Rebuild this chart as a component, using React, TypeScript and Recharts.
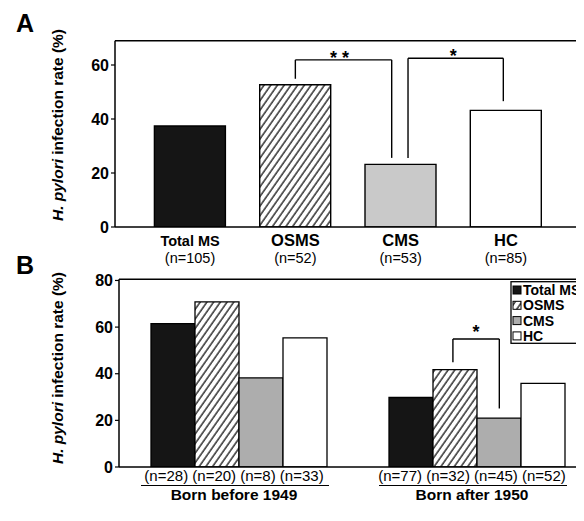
import React from "react";
import { BarChart, Bar, XAxis, YAxis, ReferenceLine, ReferenceDot, Cell } from "recharts";

// ---------- Panel A data ----------
const groupsA = ["Total MS", "OSMS", "CMS", "HC"];
const countsA = ["(n=105)", "(n=52)", "(n=53)", "(n=85)"];
const ratesA = [37.4, 52.7, 23.2, 43.2];
const ticksA = [0, 20, 40, 60];

// ---------- Panel B data ----------
const cohortsB = ["Born before 1949", "Born after 1950"];
const countsB = ["(n=28) (n=20) (n=8) (n=33)", "(n=77) (n=32) (n=45) (n=52)"];
const totalMsB = [61.5, 29.8];
const osmsB = [70.8, 41.8];
const cmsB = [38.2, 21.0];
const hcB = [55.4, 35.9];
const ticksB = [0, 20, 40, 60, 80];
const seriesB = ["Total MS", "OSMS", "CMS", "HC"];

// significance brackets (x in category-index units, y in %)
const bracketsA = [
  { x1: 1.0, x2: 1.915, yTop: 61.9, y1: 54.9, y2: 25.6, mark: "* *", markX: 1.42, markY: 64.2 },
  { x1: 2.07, x2: 2.975, yTop: 62.5, y1: 25.6, y2: 46.6, mark: "*", markX: 2.5, markY: 64.8 },
];
const bracketsB = [
  { x1: 0.903, x2: 1.098, yTop: 54.9, y1: 44.9, y2: 25.1, mark: "*", markX: 1.0, markY: 59.5 },
];

// ---------- styles ----------
const FONT = "'Liberation Sans', Arial, Helvetica, sans-serif";
const fillA: Record<string, string> = { "Total MS": "#151515", OSMS: "url(#hatchOSMS)", CMS: "#c9c9c9", HC: "#ffffff" };
const fillB: Record<string, string> = { "Total MS": "#151515", OSMS: "url(#hatchOSMS)", CMS: "#adadad", HC: "#ffffff" };

const TickA = (props: any) => {
  const { x, y, payload } = props;
  const i = groupsA.indexOf(payload.value);
  return (
    <g>
      <text x={x} y={y + 19} textAnchor="middle" fontWeight="bold" fontSize={i === 0 ? 14.5 : 16.5} fill="#000">
        {payload.value}
      </text>
      <text x={x} y={y + 36} textAnchor="middle" fontSize={14.5} fill="#000">
        {countsA[i]}
      </text>
    </g>
  );
};

const TickB = (props: any) => {
  const { x, y, payload } = props;
  const i = cohortsB.indexOf(payload.value);
  return (
    <g>
      <text x={x - 4} y={y + 14} textAnchor="middle" fontSize={15} fill="#000">
        {countsB[i]}
      </text>
      <line x1={x - 97} x2={x + 91} y1={y + 18.5} y2={y + 18.5} stroke="#000" strokeWidth={1.2} />
      <text x={x - 4} y={y + 32.5} textAnchor="middle" fontSize={15.5} fontWeight="bold" fill="#000">
        {payload.value}
      </text>
    </g>
  );
};

const starShape = (mark: string) => (p: any) => (
  <text
    x={p.cx}
    y={p.cy + 4}
    textAnchor="middle"
    dominantBaseline="central"
    fontSize={18}
    fontWeight="bold"
    fill="#000"
  >
    {mark}
  </text>
);

const renderBrackets = (list: typeof bracketsA) =>
  list.flatMap((b, k) => [
    <ReferenceLine key={`l${k}`} xAxisId="num" ifOverflow="visible" stroke="#000" strokeWidth={1.4}
      segment={[{ x: b.x1, y: b.y1 }, { x: b.x1, y: b.yTop }]} />,
    <ReferenceLine key={`t${k}`} xAxisId="num" ifOverflow="visible" stroke="#000" strokeWidth={1.4}
      segment={[{ x: b.x1, y: b.yTop }, { x: b.x2, y: b.yTop }]} />,
    <ReferenceLine key={`r${k}`} xAxisId="num" ifOverflow="visible" stroke="#000" strokeWidth={1.4}
      segment={[{ x: b.x2, y: b.yTop }, { x: b.x2, y: b.y2 }]} />,
    <ReferenceDot key={`s${k}`} xAxisId="num" x={b.markX} y={b.markY} r={0} ifOverflow="visible"
      shape={starShape(b.mark)} />,
  ]);

export default function App() {
  const dataA = groupsA.map((g, i) => ({ group: g, pos: i, rate: ratesA[i] }));
  const dataB = cohortsB.map((c, i) => ({
    cohort: c,
    pos: i,
    "Total MS": totalMsB[i],
    OSMS: osmsB[i],
    CMS: cmsB[i],
    HC: hcB[i],
  }));

  const axisStroke = { stroke: "#000", strokeWidth: 1.5 };
  const yTick = { fill: "#000", fontSize: 16, fontWeight: "bold" as const };

  return (
    <div style={{ position: "relative", width: 576, height: 513, overflow: "hidden", fontFamily: FONT, background: "#fff" }}>
      <svg width={0} height={0} style={{ position: "absolute" }}>
        <defs>
          <pattern id="hatchOSMS" patternUnits="userSpaceOnUse" width={5.5} height={10} patternTransform="rotate(35)">
            <rect width={5.5} height={10} fill="#fff" />
            <line x1={1} y1={0} x2={1} y2={10} stroke="#111" strokeWidth={1.3} />
          </pattern>
        </defs>
      </svg>

      {/* Panel A */}
      <div style={{ width: 576, height: 260 }}>
        <BarChart width={576} height={260} data={dataA} margin={{ top: 32.7, right: 0, bottom: 0, left: 0 }} barCategoryGap={17}>
          <XAxis xAxisId="cat" dataKey="group" padding={{ left: 22.4, right: 25.4 }} height={41}
            axisLine={axisStroke} tickLine={false} tickSize={0} tickMargin={0} tick={<TickA />} interval={0} />
          <XAxis xAxisId="num" dataKey="pos" type="number" domain={[-0.5, 3.5]} padding={{ left: 22.4, right: 25.4 }}
            hide allowDataOverflow />
          <YAxis width={107} domain={[0, 69]} ticks={ticksA} allowDataOverflow axisLine={axisStroke}
            tickLine={{ stroke: "#000", strokeWidth: 1.2 }} tickSize={4} tickMargin={2} tick={yTick} />
          <ReferenceLine xAxisId="cat" y={69} stroke="#000" strokeWidth={1.5} ifOverflow="visible" />
          <Bar xAxisId="cat" dataKey="rate" isAnimationActive={false} stroke="#000" strokeWidth={1.4}>
            {dataA.map((d) => (
              <Cell key={d.group} fill={fillA[d.group]} />
            ))}
          </Bar>
          {renderBrackets(bracketsA)}
        </BarChart>
      </div>

      {/* Panel B */}
      <div style={{ width: 576, height: 253, overflow: "hidden" }}>
        <BarChart width={587} height={253} data={dataB} margin={{ top: 11.3, right: 0, bottom: 0, left: 0 }}
          barCategoryGap={32} barGap={0}>
          <XAxis xAxisId="cat" dataKey="cohort" height={54} axisLine={axisStroke} tickLine={false}
            tickSize={0} tickMargin={0} tick={<TickB />} interval={0} />
          <XAxis xAxisId="num" dataKey="pos" type="number" domain={[-0.5, 1.5]} hide allowDataOverflow />
          <YAxis width={111} domain={[0, 80.5]} ticks={ticksB} allowDataOverflow axisLine={axisStroke}
            tickLine={{ stroke: "#000", strokeWidth: 1.2 }} tickSize={4} tickMargin={2} tick={yTick} />
          <ReferenceLine xAxisId="cat" y={80.5} stroke="#000" strokeWidth={1.5} ifOverflow="visible" />
          {seriesB.map((s) => (
            <Bar key={s} xAxisId="cat" dataKey={s} fill={fillB[s]} stroke="#000" strokeWidth={1.3} isAnimationActive={false} />
          ))}
          {renderBrackets(bracketsB)}
        </BarChart>
      </div>

      {/* Overlay: panel letters, axis titles, legend */}
      <svg width={576} height={513} style={{ position: "absolute", left: 0, top: 0, pointerEvents: "none" }}>
        <text x={17} y={15} textAnchor="middle" dominantBaseline="central" fontSize={25} fontWeight="bold" fill="#000">A</text>
        <text x={17} y={257} textAnchor="middle" dominantBaseline="central" fontSize={25} fontWeight="bold" fill="#000">B</text>
        <text transform="translate(49,117) rotate(-90)" textAnchor="middle" dominantBaseline="central" fontSize={15.5} fontWeight="bold" fill="#000">
          <tspan fontStyle="italic">H. pylori</tspan>
          {" infection rate (%)"}
        </text>
        <text transform="translate(49,360) rotate(-90)" textAnchor="middle" dominantBaseline="central" fontSize={15.5} fontWeight="bold" fill="#000">
          <tspan fontStyle="italic">H. pylori</tspan>
          {" infection rate (%)"}
        </text>
        <rect x={503} y={273.7} width={90} height={61.6} fill="#fff" stroke="#000" strokeWidth={1.3} />
        {seriesB.map((s, i) => (
          <g key={s}>
            <rect x={505} y={278 + i * 15.3} width={8} height={8} fill={fillB[s]} stroke="#000" strokeWidth={1} />
            <text x={515} y={282 + i * 15.3} dominantBaseline="central" fontSize={14} fontWeight="bold" fill="#000">{s}</text>
          </g>
        ))}
      </svg>
    </div>
  );
}
